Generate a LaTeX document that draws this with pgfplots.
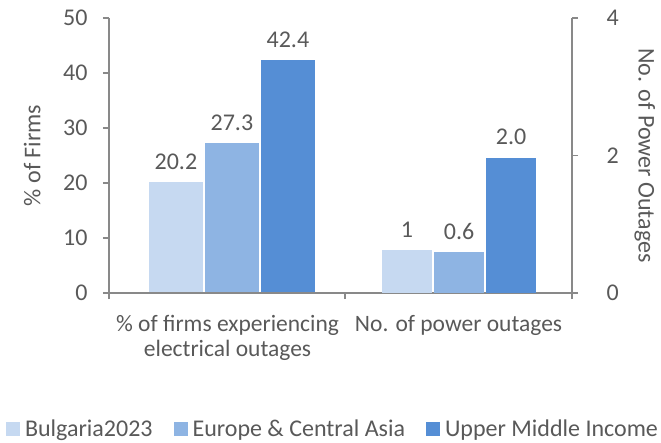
\documentclass[border=0pt]{standalone}
\usepackage{pgfplots}
\pgfplotsset{compat=1.18}
\usepackage{fontspec}
\setmainfont{Carlito}
\definecolor{cA}{HTML}{C6D9F1}
\definecolor{cB}{HTML}{8EB4E3}
\definecolor{cC}{HTML}{558ED5}
\definecolor{txt}{HTML}{595959}
\definecolor{axg}{HTML}{898989}
\newcommand{\f}{\fontsize{24}{27}\selectfont}
\begin{document}
\begin{tikzpicture}[x=1pt,y=1pt]
\path[use as bounding box] (0,0) rectangle (661,442);
\pgfplotsset{
  base/.style={
    width=463pt, height=275pt, scale only axis,
    at={(109pt,149pt)}, anchor=south west,
    xmin=-0.5, xmax=1.5, ymin=0, clip=false,
    axis line style={draw=axg, line width=1.3pt},
    tick style={draw=axg, line width=1.3pt},
    tick align=outside, major tick length=6pt,
    tick label style={font=\f, text=txt},
    label style={font=\f, text=txt},
    /pgf/number format/assume math mode=true,
    ybar=2pt,
    point meta=explicit symbolic,
    nodes near coords={\pgfplotspointmeta},
    every node near coord/.append style={font=\f, text=txt, yshift=9pt},
  }
}
\begin{axis}[base,
  ymax=50, ytick={0,10,...,50},
  axis x line*=bottom, axis y line*=left,
  bar width=54pt,
  xtick={0.012,1.01},
  xticklabels={{\% of firms experiencing\\electrical outages},{No. of power outages}},
  xticklabel style={align=center, yshift=-13pt, font=\fontsize{23.5}{25}\selectfont},
  major x tick style={draw=none},
  yticklabel style={xshift=-12pt},
  ylabel={\% of Firms},
  ylabel style={at={(axis description cs:-0.166,0.5)}, anchor=center},
  legend columns=3,
  legend style={at={(axis description cs:0.487,-0.494)}, anchor=center, draw=none,
    font=\f, text=txt, nodes={inner xsep=5pt, inner ysep=3pt},
    /tikz/every even column/.append style={column sep=16pt}},
  legend image code/.code={\fill[#1] (0pt,-7pt) rectangle (14pt,7pt);},
]
\addplot[fill=cA, draw=none] coordinates {(0.031,20.2) [20.2]};
\addplot[fill=cB, draw=none] coordinates {(0.031,27.3) [27.3]};
\addplot[fill=cC, draw=none] coordinates {(0.031,42.4) [42.4]};
\legend{Bulgaria2023, Europe \& Central Asia, Upper Middle Income}
\end{axis}
\begin{axis}[base,
  ymax=4, ytick={0,2,4},
  axis x line*=bottom, axis y line*=right,
  bar width=50pt,
  xtick={-0.5,0.52,1.5}, xticklabels={},
  yticklabel style={xshift=25pt},
  ylabel={No. of Power Outages},
  ylabel style={at={(axis description cs:1.157,0.5)}, anchor=center, rotate=180},
]
\addplot[fill=cA, draw=none] coordinates {(1.012,0.62) [1]};
\addplot[fill=cB, draw=none] coordinates {(1.012,0.60) [0.6]};
\addplot[fill=cC, draw=none] coordinates {(1.012,1.97) [2.0]};
\end{axis}
\end{tikzpicture}
\end{document}
